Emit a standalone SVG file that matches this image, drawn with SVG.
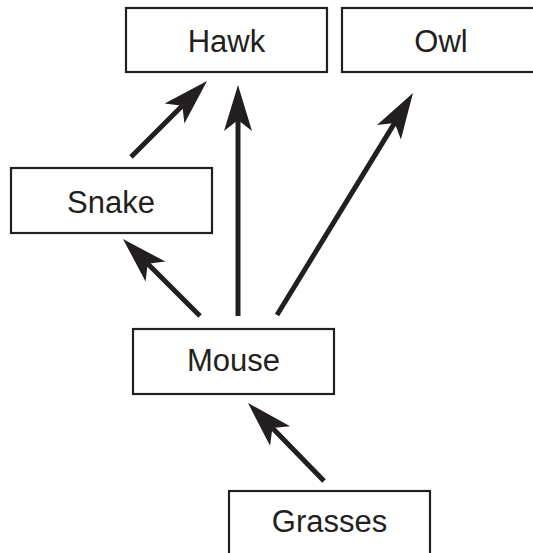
<svg xmlns="http://www.w3.org/2000/svg" width="533" height="553" viewBox="0 0 533 553">
<style>
.box{fill:#fff;stroke:#231f20;stroke-width:2.2}
.lbl{font-family:"Liberation Sans",Arial,sans-serif;font-size:31px;fill:#231f20;text-anchor:middle}
.edge{stroke:#231f20;stroke-width:5;fill:none;marker-end:url(#head)}
</style>
<defs>
<marker id="head" markerUnits="userSpaceOnUse" viewBox="-47 -16 50 32" markerWidth="50" markerHeight="32" refX="-35" refY="0" orient="auto">
<path d="M0,0 L-46,-14 L-35,0 L-46,14 Z" fill="#231f20"/>
</marker>
</defs>
<rect width="533" height="553" fill="#fff"/>
<g id="connectors">
<line class="edge" x1="131" y1="157" x2="182.3" y2="105.7"/>
<line class="edge" x1="238" y1="316" x2="238" y2="120"/>
<line class="edge" x1="277" y1="315" x2="394.7" y2="122.9"/>
<line class="edge" x1="200" y1="316" x2="147.7" y2="263.7"/>
<line class="edge" x1="324" y1="481" x2="272.4" y2="428.1"/>
</g>
<g id="hawk"><rect class="box" x="126" y="8" width="201" height="64"/><text class="lbl" x="226.5" y="52">Hawk</text></g>
<g id="owl"><rect class="box" x="342" y="8" width="200" height="64"/><text class="lbl" x="441" y="52">Owl</text></g>
<g id="snake"><rect class="box" x="11" y="168" width="201" height="65"/><text class="lbl" x="111" y="213">Snake</text></g>
<g id="mouse"><rect class="box" x="133" y="329" width="201" height="65"/><text class="lbl" x="233.5" y="371">Mouse</text></g>
<g id="grasses"><rect class="box" x="229" y="491" width="201" height="70"/><text class="lbl" x="329.5" y="532">Grasses</text></g>
</svg>
